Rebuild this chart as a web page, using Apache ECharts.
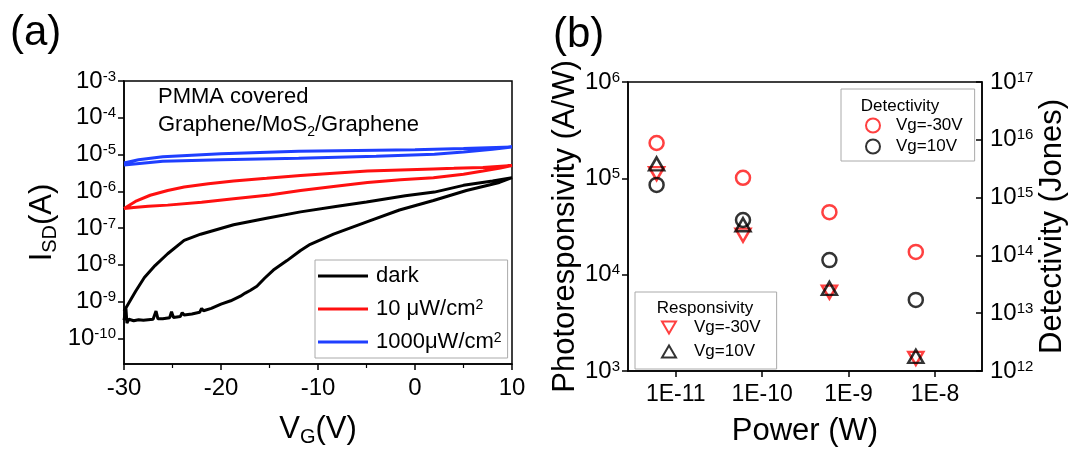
<!DOCTYPE html>
<html>
<head>
<meta charset="utf-8">
<script src="https://cdn.jsdelivr.net/npm/echarts@6/dist/echarts.min.js"></script>
<style>
  html, body { margin: 0; padding: 0; background: #fff; }
  #chart { width: 1072px; height: 452px; }
</style>
</head>
<body>
<div id="chart"></div>
<script>
const FONT = '"Liberation Sans", Arial, sans-serif';
const RED = '#ff1010';
const BLUE = '#1f3fff';

// (a) gate sweeps, forward branch then backward branch (V, A)
const darkV = [-30, -29.8, -29.7, -29.5, -29, -28.5, -28, -27.5, -27, -26.7, -26.5, -26, -25.3, -25.1, -24.9, -24.2, -24, -23.8, -23, -22.2, -22, -21.8, -21, -20, -19, -18, -17.5, -17, -16.3, -15.5, -14.6, -13.2, -11.8, -10.8, -8.4, -4.9, -1.6, 1.9, 5.3, 8.7, 10,
  8, 5, 2, -1, -5, -8, -11.8, -15.3, -18.7, -22.1, -23.8, -25.5, -26.8, -27.9, -28.8, -29.7, -30];
const darkI = [3.1e-10, 6.5e-10, 2.6e-10, 3.3e-10, 3.0e-10, 3.2e-10, 3.1e-10, 3.2e-10, 3.3e-10, 5.5e-10, 3.4e-10, 3.4e-10, 3.6e-10, 5.3e-10, 3.7e-10, 3.9e-10, 5.0e-10, 4.3e-10, 4.6e-10, 5.1e-10, 6.5e-10, 5.6e-10, 6.5e-10, 8.5e-10, 1.05e-9, 1.4e-9, 1.7e-9, 2.0e-9, 2.6e-9, 4.3e-9, 7.2e-9, 1.3e-8, 2.45e-8, 3.6e-8, 6.8e-8, 1.5e-7, 3.1e-7, 5.6e-7, 1.05e-6, 1.74e-6, 2.35e-6,
  1.9e-6, 1.45e-6, 9.5e-7, 7.6e-7, 5.1e-7, 3.9e-7, 2.75e-7, 1.85e-7, 1.23e-7, 6.8e-8, 4.6e-8, 2.0e-8, 9.5e-9, 4.5e-9, 1.9e-9, 7.5e-10, 5.5e-10];

const lowV = [-30, -29, -27.5, -25.5, -22, -18.7, -15, -11.8, -8.4, -4.9, -1.5, 1.9, 5, 7, 8.8, 10,
  7, 4, 1.9, -1.5, -4.9, -8.4, -11.8, -15.3, -18.7, -21.3, -23.8, -25.5, -27.3, -28.7, -29.7, -30];
const lowI = [3.4e-7, 3.6e-7, 3.9e-7, 4.2e-7, 5.0e-7, 6.3e-7, 7.9e-7, 1.05e-6, 1.35e-6, 1.74e-6, 2.05e-6, 2.35e-6, 2.9e-6, 3.55e-6, 4.3e-6, 5.0e-6,
  4.45e-6, 4.2e-6, 4.05e-6, 3.8e-6, 3.55e-6, 3.1e-6, 2.7e-6, 2.25e-6, 1.9e-6, 1.6e-6, 1.3e-6, 1.05e-6, 7.8e-7, 5.5e-7, 3.8e-7, 3.4e-7];

const highV = [-30, -26, -20, -12, -4, 2, 5, 8, 10,
  5, 0, -6, -12, -20, -26, -28.5, -30];
const highI = [5.2e-6, 6.6e-6, 7.2e-6, 7.9e-6, 9.0e-6, 1.02e-5, 1.17e-5, 1.4e-5, 1.6e-5,
  1.45e-5, 1.35e-5, 1.29e-5, 1.23e-5, 1.05e-5, 8.7e-6, 7.2e-6, 5.9e-6];

// (b) power dependence
const powerW = [6e-12, 6e-11, 6e-10, 6e-9];
const respNeg30 = [1.12e5, 2.57e4, 6.6e3, 1.35e3];   // A/W
const resp10 = [1.41e5, 3.3e4, 7.2e3, 1.42e3];
const detNeg30 = [8.8e15, 2.2e15, 5.6e14, 1.15e14]; // Jones
const det10 = [1.66e15, 4.1e14, 8.3e13, 1.7e13];

const zip = (xs, ys) => xs.map((x, i) => [x, ys[i]]);

function pow10Label(v) {
  const e = Math.log10(v);
  const r = Math.round(e);
  if (Math.abs(e - r) > 1e-6) return '';
  return '{b|10}{s|' + r + '}';
}
function eLabel(v) {
  const e = Math.log10(v);
  const r = Math.round(e);
  if (Math.abs(e - r) > 1e-6) return '';
  return '1E' + r;
}

const black = { color: '#000', fontFamily: FONT };
const powRich = {
  b: { ...black, fontSize: 24 },
  s: { ...black, fontSize: 15, verticalAlign: 'top' }
};
const axisLine = { onZero: false, lineStyle: { color: '#000', width: 1.5 } };
const tick = (inside) => ({ inside: !!inside, length: 6, lineStyle: { color: '#000', width: 1.5 } });
const titleRich = {
  n: { ...black, fontSize: 31 },
  sub: { ...black, fontSize: 20, padding: [16, 0, 0, 0] }
};

const respName = ['R Vg=-30V', 'R Vg=10V'];
const detName = ['D Vg=-30V', 'D Vg=10V'];
const hollow = (c) => ({ color: 'rgba(0,0,0,0)', borderColor: c, borderWidth: 2.5 });
const DOWN_TRI = 'path://M0,0 L14,0 L7,12 Z';
const UP_TRI = 'path://M7,0 L14,12 L0,12 Z';

const option = {
  animation: false,
  textStyle: { fontFamily: FONT },
  grid: [
    { left: 124, top: 81, width: 388, height: 292, show: true, borderColor: '#000', borderWidth: 1.5 },
    { left: 628, top: 82, width: 354, height: 292, show: true, borderColor: '#000', borderWidth: 1.5 }
  ],
  xAxis: [
    {
      type: 'value', gridIndex: 0, min: -30, max: 10, interval: 10,
      axisLine, axisTick: tick(),
      minorTick: { show: true, splitNumber: 2, length: 4, lineStyle: { color: '#000', width: 1.2 } },
      splitLine: { show: false },
      axisLabel: { ...black, fontSize: 24, margin: 12 },
      name: '{n|V}{sub|G}{n|(V)}', nameLocation: 'middle', nameGap: 47,
      nameTextStyle: { rich: titleRich }
    },
    {
      type: 'log', gridIndex: 1, min: 2.8e-12, max: 3.5e-8, splitNumber: 5,
      axisLine, axisTick: tick(), splitLine: { show: false },
      axisLabel: { ...black, fontSize: 23, margin: 12, formatter: eLabel, showMinLabel: false, showMaxLabel: false },
      name: 'Power (W)', nameLocation: 'middle', nameGap: 45,
      nameTextStyle: { ...black, fontSize: 31 }
    }
  ],
  yAxis: [
    {
      type: 'log', gridIndex: 0, min: 2e-11, max: 1e-3, splitNumber: 8,
      axisLine, axisTick: tick(), splitLine: { show: false },
      axisLabel: { formatter: pow10Label, rich: powRich, margin: 8, showMinLabel: false },
      name: '{n|I}{sub|SD}{n|(A)}', nameLocation: 'middle', nameGap: 64,
      nameTextStyle: { rich: titleRich }
    },
    {
      type: 'log', gridIndex: 1, min: 1e3, max: 1e6,
      axisLine, axisTick: tick(), splitLine: { show: false },
      axisLabel: { formatter: pow10Label, rich: powRich, margin: 8 },
      name: 'Photoresponsivity (A/W)', nameLocation: 'middle', nameGap: 44,
      nameTextStyle: { ...black, fontSize: 31 }
    },
    {
      type: 'log', gridIndex: 1, min: 1e12, max: 1e17, position: 'right',
      axisLine, axisTick: tick(true), splitLine: { show: false },
      axisLabel: { formatter: pow10Label, rich: powRich, margin: 8 },
      name: 'Detectivity (Jones)', nameLocation: 'middle', nameGap: 45,
      nameTextStyle: { ...black, fontSize: 31 }
    }
  ],
  legend: [
    {
      data: ['dark', '10 μW/cm2', '1000μW/cm2'],
      left: 315, top: 260, orient: 'vertical', icon: 'rect',
      itemWidth: 50, itemHeight: 3, itemGap: 11, padding: [5, 6, 5, 3],
      borderColor: '#aaa', borderWidth: 1,
      formatter: (n) => n.endsWith('2') ? '{t|' + n.slice(0, -1) + '}{s|2}' : '{t|' + n + '}',
      textStyle: { padding: [0, 0, 0, 3], rich: { t: { ...black, fontSize: 22 }, s: { ...black, fontSize: 14, verticalAlign: 'top' } } }
    },
    {
      data: detName,
      left: 841, top: 89, orient: 'vertical',
      itemWidth: 14, itemHeight: 14, itemGap: 4, padding: [28, 12, 6, 24],
      borderColor: '#aaa', borderWidth: 1,
      formatter: (n) => n.slice(2),
      textStyle: { ...black, fontSize: 17, padding: [0, 0, 0, 11] }
    },
    {
      data: respName,
      left: 635, top: 292, orient: 'vertical',
      itemWidth: 14, itemHeight: 12, itemGap: 7, padding: [27, 16, 9, 26],
      borderColor: '#aaa', borderWidth: 1,
      formatter: (n) => n.slice(2),
      textStyle: { ...black, fontSize: 17, padding: [0, 0, 0, 13] }
    }
  ],
  graphic: [
    { type: 'text', left: 10, top: 12, style: { text: '(a)', font: '42px ' + FONT, fill: '#000' } },
    { type: 'text', left: 553, top: 14, style: { text: '(b)', font: '42px ' + FONT, fill: '#000' } },
    {
      type: 'text', left: 158, top: 86,
      style: {
        text: '{t|PMMA covered}\n{t|Graphene/MoS}{s|2}{t|/Graphene}',
        rich: { t: { ...black, fontSize: 22, lineHeight: 28 }, s: { ...black, fontSize: 14, padding: [14, 0, 0, 0] } }
      }
    },
    { type: 'text', x: 900, y: 106, style: { text: 'Detectivity', font: '17px ' + FONT, fill: '#000', align: 'center', verticalAlign: 'middle' } },
    { type: 'text', x: 705, y: 308, style: { text: 'Responsivity', font: '17px ' + FONT, fill: '#000', align: 'center', verticalAlign: 'middle' } }
  ],
  series: [
    { name: 'dark', type: 'line', xAxisIndex: 0, yAxisIndex: 0, data: zip(darkV, darkI), symbol: 'none', color: '#000', lineStyle: { width: 3 } },
    { name: '10 μW/cm2', type: 'line', xAxisIndex: 0, yAxisIndex: 0, data: zip(lowV, lowI), symbol: 'none', color: RED, lineStyle: { width: 3 } },
    { name: '1000μW/cm2', type: 'line', xAxisIndex: 0, yAxisIndex: 0, data: zip(highV, highI), symbol: 'none', color: BLUE, lineStyle: { width: 3 } },
    { name: respName[0], type: 'scatter', xAxisIndex: 1, yAxisIndex: 1, data: zip(powerW, respNeg30), symbol: DOWN_TRI, symbolSize: [15, 13], itemStyle: hollow(RED) },
    { name: respName[1], type: 'scatter', xAxisIndex: 1, yAxisIndex: 1, data: zip(powerW, resp10), symbol: UP_TRI, symbolSize: [15, 13], itemStyle: hollow('#000') },
    { name: detName[0], type: 'scatter', xAxisIndex: 1, yAxisIndex: 2, data: zip(powerW, detNeg30), symbol: 'circle', symbolSize: 14, itemStyle: hollow(RED) },
    { name: detName[1], type: 'scatter', xAxisIndex: 1, yAxisIndex: 2, data: zip(powerW, det10), symbol: 'circle', symbolSize: 14, itemStyle: hollow('#000') }
  ]
};

const chart = echarts.init(document.getElementById('chart'));
chart.setOption(option);
</script>
</body>
</html>
